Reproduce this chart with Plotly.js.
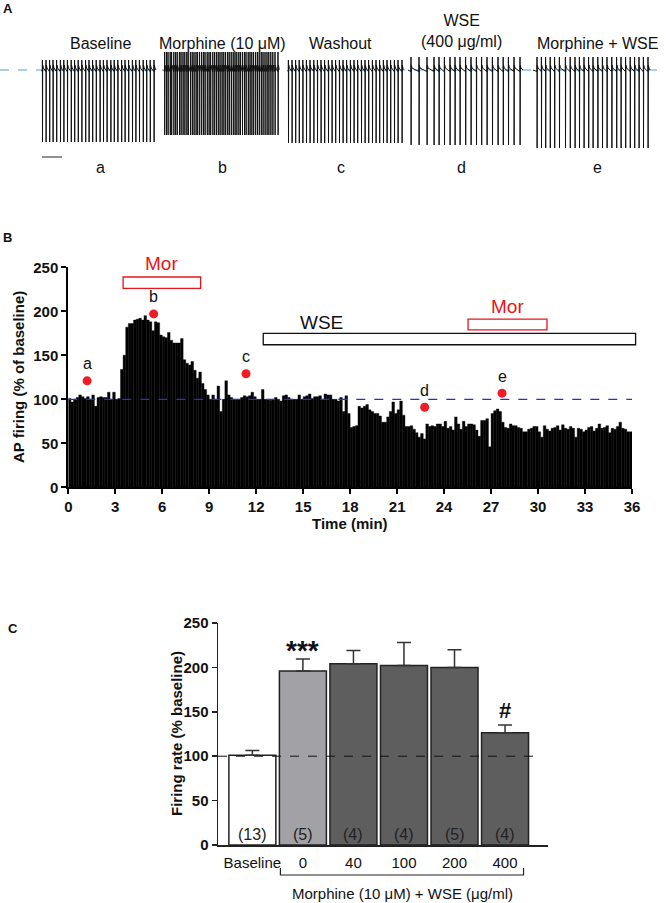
<!DOCTYPE html>
<html><head><meta charset="utf-8">
<script src="https://cdn.plot.ly/plotly-3.0.1.min.js"></script>
<style>html,body{margin:0;padding:0;background:#fff}</style>
</head><body><div id="chart" style="width:666px;height:903px"></div>
<script>
// ---------- Panel A: spike trains ----------
const segmentLabels = ['Baseline', 'Morphine (10 μM)', 'Washout', 'WSE<br>(400 μg/ml)', 'Morphine + WSE'];
const segmentLetters = ['a', 'b', 'c', 'd', 'e'];
const spikesBaseline = [0.02,0.2,0.38,0.55,0.73,0.92,1.09,1.27,1.46,1.63,1.81,1.99,2.18,2.35,2.53,2.71,2.9,3.07,3.25,3.44,3.61,3.79,3.98,4.15,4.33,4.52,4.69,4.87,5.06,5.23,5.41,5.6];
const spikesMorphine = [0.03,0.12,0.2,0.31,0.38,0.49,0.58,0.66,0.77,0.85,0.95,1.04,1.14,1.21,1.32,1.41,1.5,1.6,1.68,1.78,1.88,1.97,2.05,2.16,2.25,2.33,2.44,2.53,2.62,2.71,2.8,2.9,2.99,3.08,3.18,3.26,3.36,3.46,3.55,3.64,3.74,3.82,3.92,4.02,4.1,4.21,4.3,4.39,4.48,4.58,4.67,4.76,4.86,4.95,5.05,5.15,5.24,5.34,5.44,5.55,5.7];
const spikesWashout = [0.02,0.2,0.38,0.56,0.74,0.92,1.1,1.29,1.47,1.65,1.83,2.02,2.2,2.38,2.57,2.75,2.93,3.12,3.3,3.48,3.67,3.85,4.03,4.22,4.4,4.58,4.77,4.95,5.13,5.32,5.5,5.7];
const spikesWSE = [0.15,0.55,0.95,1.3,1.55,1.82,2.1,2.35,2.6,2.88,3.15,3.42,3.68,3.95,4.22,4.5,4.76,5.02,5.3,5.6];
const spikesMorWSE = [0.2,0.42,0.63,0.86,1.08,1.32,1.62,1.86,2.1,2.32,2.55,2.78,3.0,3.24,3.47,3.7,3.94,4.18,4.4,4.63,4.86,5.08,5.3,5.52,5.75];
const segmentDuration = [5.7, 5.75, 5.75, 5.75, 5.85];   // s
const spikePeak = [10, 18, 10, 13, 13];                  // relative to rest
const spikeTrough = [-72, -65, -73, -75, -78];

// ---------- Panel B: AP firing histogram (10-s bins, % of baseline) ----------
const firingRate = [
 101, 97, 100, 102, 105, 103,
 101, 103, 100, 105, 92, 102,
 103, 102, 102, 108, 100, 108,
 100, 101, 134, 150, 182, 186,
 186, 190, 191, 192, 190, 195,
 190, 188, 178, 188, 187, 173,
 171, 170, 176, 167, 164, 164,
 164, 169, 145, 141, 139, 143,
 133, 124, 131, 118, 111, 105,
 100, 105, 100, 115, 86, 100,
 121, 105, 102, 100, 100, 100,
 102, 104, 103, 104, 108, 103,
 100, 100, 111, 100, 100, 99,
 100, 102, 100, 98, 104, 105,
 102, 100, 100, 100, 105, 100,
 103, 104, 106, 101, 103, 103,
 104, 100, 106, 105, 105, 100,
 100, 98, 102, 86, 104, 84,
 68, 69, 70, 92, 90, 92,
 94, 88, 86, 84, 84, 81,
 74, 74, 80, 86, 97, 84,
 88, 98, 82, 69, 69, 70,
 66, 62, 57, 61, 55, 72,
 69, 70, 69, 72, 72, 69,
 75, 67, 69, 65, 80, 72,
 66, 75, 69, 72, 72, 71,
 65, 58, 76, 76, 78, 46,
 84, 87, 89, 86, 74, 68,
 67, 72, 70, 70, 68, 67,
 63, 63, 66, 67, 69, 69,
 63, 57, 70, 66, 64, 67,
 68, 70, 65, 71, 67, 66,
 69, 67, 57, 67, 66, 63,
 65, 68, 69, 64, 67, 72,
 67, 68, 70, 62, 67, 66,
 69, 74, 67, 66, 63, 63
];
const binMinutes = 1 / 6;
const sampleTimes = [1.2, 5.45, 11.35, 22.76, 27.7];   // min
const sampleValues = [121, 197, 129, 91, 107];
const morPeriods = [[3.5, 8.45], [25.53, 30.57]];
const morBoxLevels = [[226, 239], [179, 191]];
const wsePeriod = [12.45, 36.23];
const wseBoxLevel = [162, 175];

// ---------- Panel C: summary bars ----------
const groups = ['Baseline', '0', '40', '100', '200', '400'];
const meanRate = [101, 196, 204, 202, 200, 126.5];
const semRate = [5.5, 13.5, 15, 26, 20, 8.5];
const nCells = ['(13)', '(5)', '(4)', '(4)', '(5)', '(4)'];
const sigMarks = ['', '***', '', '', '', '#'];
const groupColors = ['#ffffff', '#a2a2a6', '#5e5e5e', '#5e5e5e', '#5e5e5e', '#5e5e5e'];

// ---------- geometry ----------
const W = 666, H = 903;
const FONT = 'Liberation Sans, Arial, Helvetica, sans-serif';
const px = x => x / W, py = y => 1 - y / H;
const xDomA = [0, 1], yDomA = [py(170), py(50)], xRangeA = [0, 33.3], yRangeA = [-100, 20];
const xDomB = [px(68.3), px(632)], yDomB = [py(487.3), py(267.3)], xRangeB = [0, 36], yRangeB = [0, 250];
const xDomC = [px(218), px(548)], yDomC = [py(845), py(623)], xRangeC = [-0.68, 5.85], yRangeC = [0, 250];
const segOffsets = [2.1, 8.2, 14.4, 20.4, 26.65];     // s, layout placement of the five sweeps
const segCentersPx = [100, 222, 341, 461, 597];

const bx = t => xDomB[0] + (t - xRangeB[0]) / (xRangeB[1] - xRangeB[0]) * (xDomB[1] - xDomB[0]);
const by = v => yDomB[0] + (v - yRangeB[0]) / (yRangeB[1] - yRangeB[0]) * (yDomB[1] - yDomB[0]);
const cx = i => xDomC[0] + (i - xRangeC[0]) / (xRangeC[1] - xRangeC[0]) * (xDomC[1] - xDomC[0]);

// build sweep waveform
const allSpikes = [spikesBaseline, spikesMorphine, spikesWashout, spikesWSE, spikesMorWSE];
const wx = [], wy = [];
allSpikes.forEach((sp, k) => {
  const o = segOffsets[k];
  wx.push(o); wy.push(0);
  sp.forEach((t, j) => {
    wx.push(o + t - 0.01, o + t - 0.003, o + t, o + t + 0.005, o + t + 0.015, o + t + 0.05);
    wy.push(-1.5, 0, spikePeak[k], spikeTrough[k], 5, 2);
  });
  wx.push(o + segmentDuration[k]); wy.push(0);
  wx.push(null); wy.push(null);
});

const traces = [
  { x: xRangeA, y: [0, 0], xaxis: 'x3', yaxis: 'y3', mode: 'lines', hoverinfo: 'skip',
    line: { color: '#5b9bd5', width: 1, dash: 'dash' } },
  { x: wx, y: wy, xaxis: 'x3', yaxis: 'y3', mode: 'lines', hoverinfo: 'skip',
    line: { color: '#111', width: 1 } },
  { x: [segOffsets[0], segOffsets[0] + 1], y: [-87, -87], xaxis: 'x3', yaxis: 'y3', mode: 'lines',
    line: { color: '#555', width: 1.3 } },
  { type: 'bar', x: firingRate.map((v, i) => (i + 0.5) * binMinutes), y: firingRate, width: binMinutes,
    marker: { color: '#000', line: { width: 0.4, color: '#000' } }, xaxis: 'x', yaxis: 'y' },
  { x: sampleTimes, y: sampleValues, mode: 'markers', cliponaxis: false, xaxis: 'x', yaxis: 'y',
    marker: { color: '#ee1c25', size: 9 } },
  { type: 'bar', x: groups, y: meanRate, width: 0.93, xaxis: 'x2', yaxis: 'y2',
    marker: { color: groupColors, line: { color: '#222', width: 1.5 } },
    error_y: { type: 'data', array: semRate, arrayminus: groups.map(() => 0), symmetric: false,
      color: '#333', thickness: 1.5, width: 7 } }
];

const ann = [];
const A = (o) => ann.push(Object.assign({ showarrow: false, xanchor: 'center', yanchor: 'middle',
  font: { family: FONT, size: 15, color: '#111' } }, o));
// panel letters
A({ text: '<b>A</b>', xref: 'paper', yref: 'paper', x: px(8), y: py(9), font: { family: FONT, size: 13, color: '#111' } });
A({ text: '<b>B</b>', xref: 'paper', yref: 'paper', x: px(7), y: py(237), font: { family: FONT, size: 13, color: '#111' } });
A({ text: '<b>C</b>', xref: 'paper', yref: 'paper', x: px(13), y: py(628), font: { family: FONT, size: 13, color: '#111' } });
// panel A labels
segmentLabels.forEach((s, i) => {
  const multi = s.indexOf('<br>') >= 0;
  A({ text: s, xref: 'paper', yref: 'paper', x: px(segCentersPx[i]), y: py(multi ? 31 : 43), font: { family: FONT, size: 16, color: '#111' } });
  A({ text: segmentLetters[i], xref: 'paper', yref: 'paper', x: px(segCentersPx[i]), y: py(167), font: { family: FONT, size: 16, color: '#111' } });
});
// panel B
sampleTimes.forEach((t, i) => A({ text: segmentLetters[i], xref: 'paper', yref: 'paper', x: bx(t), y: by(sampleValues[i]), yshift: 17, font: { family: FONT, size: 16, color: '#111' } }));
morPeriods.forEach((p, i) => A({ text: 'Mor', xref: 'paper', yref: 'paper', x: bx((p[0] + p[1]) / 2), y: by(morBoxLevels[i][1]), yshift: 13,
  font: { family: FONT, size: 19, color: '#e8141b' } }));
A({ text: 'WSE', xref: 'paper', yref: 'paper', x: bx(16.2), y: by(wseBoxLevel[1]), yshift: 11, font: { family: FONT, size: 19, color: '#111' } });
A({ text: '<b>AP firing (% of baseline)</b>', xref: 'paper', yref: 'paper', x: px(18), y: py(377), textangle: -90,
  font: { family: FONT, size: 15, color: '#111' } });
A({ text: '<b>Time (min)</b>', xref: 'paper', yref: 'paper', x: px(350), y: py(523), font: { family: FONT, size: 15, color: '#111' } });
// panel C
nCells.forEach((n, i) => A({ text: n, xref: 'x2', yref: 'y2', x: i, y: 12, font: { family: FONT, size: 16, color: '#222' } }));
sigMarks.forEach((m, i) => { if (m) A({ text: '<b>' + m + '</b>', xref: 'x2', yref: 'y2', x: i,
  y: meanRate[i] + semRate[i] + (m === '#' ? 17 : 9), font: { family: FONT, size: m === '#' ? 22 : 28, color: '#111' } }); });
A({ text: '<b>Firing rate (% baseline)</b>', xref: 'paper', yref: 'paper', x: px(176), y: py(734), textangle: -90,
  font: { family: FONT, size: 15, color: '#111' } });
A({ text: 'Morphine (10 μM) + WSE (μg/ml)', xref: 'paper', yref: 'paper', x: px(402), y: py(893), font: { family: FONT, size: 15, color: '#111' } });

const shapes = [];
morPeriods.forEach((p, i) => shapes.push({ type: 'rect', xref: 'paper', yref: 'paper',
  x0: bx(p[0]), x1: bx(p[1]), y0: by(morBoxLevels[i][0]), y1: by(morBoxLevels[i][1]),
  line: { color: '#e8141b', width: 1.3 }, fillcolor: 'rgba(255,255,255,0)' }));
shapes.push({ type: 'rect', xref: 'paper', yref: 'paper', x0: bx(wsePeriod[0]), x1: bx(wsePeriod[1]),
  y0: by(wseBoxLevel[0]), y1: by(wseBoxLevel[1]), line: { color: '#111', width: 1.3 }, fillcolor: 'rgba(255,255,255,0)' });
shapes.push({ type: 'line', xref: 'x', yref: 'y', x0: 0, x1: 36, y0: 100, y1: 100, layer: 'above',
  line: { color: '#2233cc', width: 1.3, dash: 'dash' } });
shapes.push({ type: 'line', xref: 'x2', yref: 'y2', x0: xRangeC[0], x1: 5.72, y0: 100, y1: 100, layer: 'above',
  line: { color: '#111', width: 1, dash: 'dash' } });
// bracket under WSE groups
const bl = cx(0.555), br = cx(5.366);
shapes.push({ type: 'path', xref: 'paper', yref: 'paper',
  path: `M ${bl} ${py(868)} L ${bl} ${py(875)} L ${br} ${py(875)} L ${br} ${py(868)}`,
  line: { color: '#222', width: 1.2 } });

const layout = {
  width: W, height: H, margin: { l: 0, r: 0, t: 0, b: 0 }, showlegend: false,
  paper_bgcolor: '#fff', plot_bgcolor: 'rgba(0,0,0,0)', bargap: 0,
  font: { family: FONT, color: '#111' },
  xaxis3: { domain: xDomA, range: xRangeA, visible: false, anchor: 'y3' },
  yaxis3: { domain: yDomA, range: yRangeA, visible: false, anchor: 'x3' },
  xaxis: { domain: xDomB, range: xRangeB, anchor: 'y', tick0: 0, dtick: 3, ticks: 'outside', ticklen: 5, tickwidth: 2,
    showline: true, linewidth: 2, linecolor: '#000', tickcolor: '#000', showgrid: false, zeroline: false,
    tickfont: { family: FONT, size: 15, weight: 'bold', color: '#111' } },
  yaxis: { domain: yDomB, range: yRangeB, anchor: 'x', dtick: 50, ticks: 'outside', ticklen: 5, tickwidth: 2,
    showline: true, linewidth: 2, linecolor: '#000', tickcolor: '#000', showgrid: false, zeroline: false,
    tickfont: { family: FONT, size: 15, weight: 'bold', color: '#111' } },
  xaxis2: { domain: xDomC, range: xRangeC, anchor: 'y2', type: 'category', ticks: '', showline: true, linewidth: 1.5,
    linecolor: '#222', showgrid: false, zeroline: false, ticklabelstandoff: 3,
    tickfont: { family: FONT, size: 15, color: '#111' } },
  yaxis2: { domain: yDomC, range: yRangeC, anchor: 'x2', dtick: 50, ticks: 'outside', ticklen: 5, tickwidth: 1.5,
    showline: true, linewidth: 1.5, linecolor: '#222', tickcolor: '#222', showgrid: false, zeroline: false,
    tickfont: { family: FONT, size: 15, weight: 'bold', color: '#111' } },
  annotations: ann, shapes: shapes
};

Plotly.newPlot('chart', traces, layout, { staticPlot: true, displayModeBar: false });
</script></body></html>
